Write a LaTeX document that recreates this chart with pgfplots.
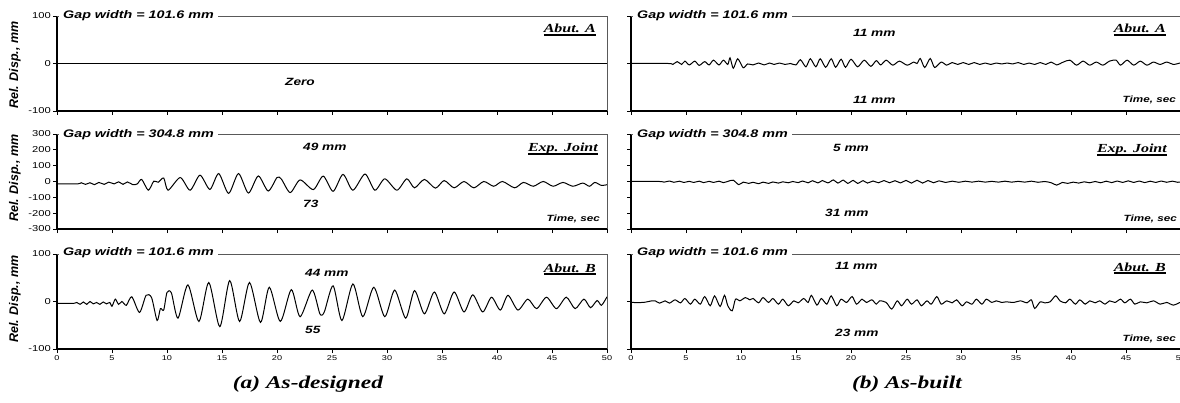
\documentclass[border=0pt]{standalone}
\usepackage{fontspec}
\setmainfont{Liberation Sans}[FakeStretch=1.3]
\newfontfamily\tnr{Liberation Serif}[FakeStretch=1.3]
\newfontfamily\arialn{Liberation Sans}
\usepackage{pgfplots}
\pgfplotsset{compat=1.18}
\newcommand\ul[1]{\setbox0\hbox{#1}\rlap{\rule[-2.6pt]{\wd0}{1.3pt}}\box0}
\pgfplotsset{
 panel/.style={
  scale only axis, width=550pt, height=95pt, anchor=south west,
  xmin=0, xmax=50, xtick={0,5,...,50},
  axis x line*=bottom, axis y line*=left,
  axis line style={-, line width=1.2pt, black},
  tick align=outside, major tick length=4pt,
  tick style={black, line width=0.8pt},
  /pgf/number format/assume math mode=true,
  xticklabel style={font=\fontsize{7}{8}\selectfont, inner sep=2pt},
  yticklabel style={font=\fontsize{8.6}{9}\selectfont, inner sep=2pt},
  clip=false,
 },
 r13/.style={ymin=-100, ymax=100, ytick={-100,0,100}},
 r2/.style={ymin=-300, ymax=300, ytick={-300,-200,...,300}},
 sig/.style={black, line width=1pt, smooth, tension=0.45, mark=none},
}
\newcommand\frm{\draw[black!65, line width=0.8pt] (rel axis cs:0,1) -- (rel axis cs:1,1) -- (rel axis cs:1,0);}
\begin{document}
\begin{tikzpicture}
\useasboundingbox (0,0) rectangle (1180pt,402pt);
% ---------- left column ----------
\begin{axis}[panel, r13, at={(57pt,291pt)}, xticklabels={}]
\addplot[sig] coordinates {(0,0)(50,0)};
\frm
\end{axis}
\begin{axis}[panel, r2, at={(57pt,173pt)}, xticklabels={}]
\addplot[sig] coordinates {(0,-15)(1.9,-15)(2.2,-8)(2.6,-18)(3.0,-8)(3.4,-20)(3.8,-6)(4.3,-18)(4.7,-4)(5.2,-15)(5.6,-2)(6.0,-18)(6.4,-3)(6.9,-20)(7.3,-15)(7.7,13)(8.3,-55)(8.8,2)(9.2,-5)(9.7,22)(10.1,-55)(11.2,25)(12.1,-55)(13.0,40)(13.9,-50)(14.7,50)(15.6,-75)(16.5,50)(17.4,-73)(18.3,35)(19.2,-60)(20.0,25)(20.4,15)(21.2,-70)(22.1,10)(23.3,-51)(24.2,34)(25.1,-62)(26.0,45)(26.9,-55)(28.0,47)(28.9,-55)(29.8,17)(30.9,-55)(31.8,17)(32.5,-40)(33.4,13)(34.4,-42)(35.2,6)(36.1,-40)(37.0,0)(37.9,-40)(38.8,0)(39.7,-30)(40.5,0)(41.6,-40)(42.4,-6)(43.3,-30)(44.2,0)(45.1,-30)(46.0,-6)(46.9,-30)(47.8,-10)(48.4,-30)(48.9,-6)(49.5,-25)(50,-20)};
\frm
\end{axis}
\begin{axis}[panel, r13, at={(57pt,53pt)}]
\addplot[sig] coordinates {(0,-4)(1.5,-4)(1.8,-2)(2.1,-6)(2.4,-1)(2.7,-6)(3.0,0)(3.3,-5)(3.6,-2)(3.9,-6)(4.2,-1)(4.5,-5)(4.8,-2)(5.0,-10)(5.3,5)(5.6,-6)(5.9,0)(6.3,-8)(6.8,10)(7.5,-23)(8.1,13)(8.6,8)(9.1,-40)(9.4,-15)(9.7,-18)(10.0,19)(10.4,18)(11.0,-35)(11.9,35)(12.9,-42)(13.8,40)(14.8,-53)(15.7,44)(16.6,-42)(17.5,40)(18.5,-44)(19.3,30)(20.3,-42)(21.3,25)(22.1,-32)(23.2,24)(23.9,-26)(24.3,-22)(25.1,33)(25.9,-40)(26.9,37)(27.8,-32)(28.8,30)(29.8,-32)(30.7,24)(31.7,-35)(32.5,23)(33.4,-26)(34.3,20)(35.2,-26)(36.1,20)(37.0,-22)(37.8,14)(38.7,-22)(39.5,9)(40.3,-18)(41.0,13)(41.9,-18)(42.8,5)(43.6,-15)(44.5,9)(45.4,-15)(46.3,9)(47.1,-15)(47.9,5)(48.5,-13)(49.1,2)(49.5,-8)(50,10)};
\frm
\end{axis}
% ---------- right column ----------
\begin{axis}[panel, r13, at={(631pt,291pt)}, xticklabels={}, yticklabels={}]
\addplot[sig] coordinates {(0,0)(3.4,0)(3.8,-2)(4.2,4)(4.6,-2)(4.9,5)(5.3,-3)(5.8,5)(6.2,-4)(6.7,4)(7.1,-3)(7.5,7)(8.0,-3)(8.4,7)(8.8,-2)(9.0,12)(9.3,-10)(9.7,10)(10.2,-9)(10.6,-1)(11.1,-3)(11.6,1)(12.1,-3)(12.6,1)(13.0,-2)(13.5,1)(14.0,-2)(14.5,0)(15.0,-3)(15.4,8)(15.9,-7)(16.3,10)(16.8,-7)(17.2,10)(17.7,-8)(18.2,10)(18.6,-8)(19.1,9)(19.5,-8)(20.0,9)(20.6,-7)(21.2,7)(21.8,-6)(22.3,6)(22.7,-3)(23.2,7)(23.8,-3.5)(24.4,5)(25.1,-3.5)(25.7,3)(26.0,0)(26.3,10.5)(26.7,-8.4)(27.2,10.5)(27.6,-8.4)(28.2,3)(28.7,-3.5)(29.2,2)(29.7,-2)(30.2,2)(30.7,-2)(31.2,2)(31.7,-2)(32.2,1)(32.7,-2)(33.2,1)(33.7,-1)(34.2,1)(34.7,-1)(35.2,2)(35.7,-2)(36.2,1)(36.7,-2)(37.2,2)(37.7,-2)(38.2,3)(38.7,-3)(39.3,3)(39.9,7)(40.5,-3.5)(41.1,5)(41.7,-3.5)(42.3,3)(42.9,-3.5)(43.5,5)(44.1,7)(44.5,-3.5)(45.1,7)(45.7,-3.5)(46.3,5)(46.9,-3.5)(47.5,3)(48.1,-2)(48.7,3)(49.3,-2)(49.9,1)};
\frm
\end{axis}
\begin{axis}[panel, r2, at={(631pt,173pt)}, xticklabels={}, yticklabels={}]
\addplot[sig] coordinates {(0,0)(2.6,0)(3.0,-4)(3.5,3)(3.9,-5)(4.4,2)(4.8,-6)(5.3,1)(5.7,-6)(6.2,2)(6.6,-7)(7.1,1)(7.5,-6)(8.0,2)(8.4,-7)(8.9,3)(9.3,8)(9.8,-20)(10.2,-4)(10.7,-12)(11.1,-5)(11.6,-14)(12.0,-4)(12.5,-12)(12.9,-3)(13.4,-10)(13.8,-2)(14.3,-8)(14.7,0)(15.2,-7)(15.6,3)(16.1,-8)(16.5,5)(17.0,-9)(17.4,6)(17.9,-9)(18.4,10)(18.8,-10)(19.3,9)(19.7,-12)(20.2,7)(20.6,-12)(21.1,5)(21.5,-10)(22.0,3)(22.5,-8)(23.0,6)(23.5,-8)(24.0,5)(24.5,-9)(25.0,7)(25.5,-10)(26.0,8)(26.5,-10)(27.0,6)(27.5,-8)(28.0,4)(28.6,-6)(29.2,2)(29.8,-5)(30.4,2)(31.0,-4)(31.6,2)(32.2,-4)(32.8,1)(33.4,-4)(34.0,2)(34.6,-4)(35.2,1)(35.8,-4)(36.4,2)(37.0,-5)(37.6,0)(38.2,-8)(38.7,-23)(39.2,-6)(39.7,-12)(40.2,-4)(40.7,-10)(41.2,-2)(41.7,-8)(42.2,0)(42.7,-8)(43.2,2)(43.7,-7)(44.2,3)(44.7,-6)(45.2,4)(45.7,-6)(46.2,3)(46.7,-7)(47.2,2)(47.7,-6)(48.2,3)(48.7,-5)(49.2,2)(49.7,-5)(50,-2)};
\frm
\end{axis}
\begin{axis}[panel, r13, at={(631pt,53pt)}, yticklabels={}]
\addplot[sig] coordinates {(0,-2)(1.1,-2)(1.9,1.4)(2.2,1.4)(2.6,-3.5)(3.1,1.4)(3.5,-3.5)(4.0,3.5)(4.5,-2.8)(4.9,6.3)(5.4,-5.6)(5.8,4.9)(6.3,-5.6)(6.7,10.4)(7.2,-9)(7.6,11.8)(8.1,-10.4)(8.5,13)(8.8,-9)(9.2,-19.5)(9.5,4.9)(9.9,1.4)(10.4,8.3)(10.8,3.5)(11.1,6.3)(11.6,-2.8)(12.0,8.3)(12.5,-2)(12.9,6.3)(13.4,-5.6)(13.8,4.9)(14.3,-9)(14.8,1.4)(15.2,-2.8)(15.7,6.3)(16.1,-2)(16.4,13)(16.9,-7.6)(17.3,6.3)(17.8,-5.6)(18.2,11.8)(18.7,-9)(19.1,4.9)(19.6,-2)(20.1,10.4)(20.5,-5.6)(21.0,4.9)(21.4,-2)(21.9,3.5)(22.3,-5.6)(22.6,1.4)(23.2,-2)(23.7,-16)(24.2,1.4)(24.6,-9)(25.1,4.9)(25.5,-5.6)(26.0,3.5)(26.4,-9)(26.9,1.4)(27.3,-5.6)(27.8,10.4)(28.2,-5.6)(28.7,1.4)(29.2,-2.8)(29.6,3.5)(30.1,-9)(30.5,-0.7)(31.0,-5.6)(31.4,4.9)(31.9,-5.6)(32.3,4.9)(32.8,-2)(33.2,1.4)(33.7,-2)(34.1,-0.7)(34.8,-2)(35.4,1.4)(36.0,-2.8)(36.4,3.5)(36.7,-14.6)(37.2,-0.7)(37.6,-2.8)(38.1,-0.7)(38.6,12)(39.0,1.4)(39.5,-2.8)(39.9,4.9)(40.4,-5.6)(40.8,3.5)(41.3,-5.6)(41.7,1.4)(42.2,-2.8)(42.6,1.4)(43.1,-5.6)(43.5,1.4)(44.0,-2)(44.5,4.9)(44.9,-2.8)(45.4,4.9)(45.8,-5.6)(46.3,-0.7)(46.9,-2.8)(47.5,1.4)(48.1,-5.6)(48.7,-2)(49.3,-7.6)(49.9,-2)};
\frm
\end{axis}
% ---------- titles ----------
\tikzset{gap/.style={anchor=west, fill=white, inner xsep=4pt, inner ysep=1pt, font=\fontsize{11}{12}\selectfont\bfseries\itshape}}
\node[gap] at (59pt,386pt) {Gap width = 101.6 mm};
\node[gap] at (59pt,267pt) {Gap width = 304.8 mm};
\node[gap] at (59pt,149pt) {Gap width = 101.6 mm};
\node[gap] at (633pt,386pt) {Gap width = 101.6 mm};
\node[gap] at (633pt,267pt) {Gap width = 304.8 mm};
\node[gap] at (633pt,149pt) {Gap width = 101.6 mm};
% ---------- location labels ----------
\tikzset{loc/.style={anchor=base east, inner sep=0pt, font=\tnr\fontsize{12.3}{13}\selectfont\bfseries\itshape}}
\node[loc] at (596pt,369pt) {\ul{Abut. A}};
\node[loc] at (598pt,250pt) {\ul{Exp. Joint}};
\node[loc] at (596pt,130pt) {\ul{Abut. B}};
\node[loc] at (1166pt,369pt) {\ul{Abut. A}};
\node[loc] at (1167pt,249pt) {\ul{Exp. Joint}};
\node[loc] at (1166pt,131pt) {\ul{Abut. B}};
% ---------- time labels ----------
\tikzset{tim/.style={anchor=base east, inner sep=0pt, font=\fontsize{9}{10}\selectfont\bfseries\itshape}}
\node[tim] at (600pt,180pt) {Time, sec};
\node[tim] at (1176pt,299pt) {Time, sec};
\node[tim] at (1177pt,180pt) {Time, sec};
\node[tim] at (1176pt,61pt) {Time, sec};
% ---------- values ----------
\tikzset{val/.style={anchor=base west, inner sep=0pt, font=\fontsize{10.5}{11}\selectfont\bfseries\itshape}}
\node[val] at (285pt,316pt) {Zero};
\node[val] at (303pt,251pt) {49 mm};
\node[val] at (303pt,194pt) {73};
\node[val] at (305pt,126pt) {44 mm};
\node[val] at (305pt,69pt) {55};
\node[val] at (853pt,365pt) {11 mm};
\node[val] at (853pt,298pt) {11 mm};
\node[val] at (833pt,250pt) {5 mm};
\node[val] at (825pt,185pt) {31 mm};
\node[val] at (835pt,133pt) {11 mm};
\node[val] at (835pt,66pt) {23 mm};
% ---------- y labels ----------
\tikzset{yl/.style={rotate=90, inner sep=0pt, font=\arialn\fontsize{12.5}{13}\selectfont\bfseries\itshape}}
\node[yl] at (15pt,337pt) {Rel. Disp., mm};
\node[yl] at (15pt,224pt) {Rel. Disp., mm};
\node[yl] at (15pt,103pt) {Rel. Disp., mm};
% ---------- captions ----------
\tikzset{capt/.style={anchor=base, inner sep=0pt, font=\tnr\fontsize{18}{20}\selectfont\bfseries\itshape}}
\node[capt] at (308pt,14pt) {(a) As-designed};
\node[capt] at (907pt,14pt) {(b) As-built};
\end{tikzpicture}
\end{document}
